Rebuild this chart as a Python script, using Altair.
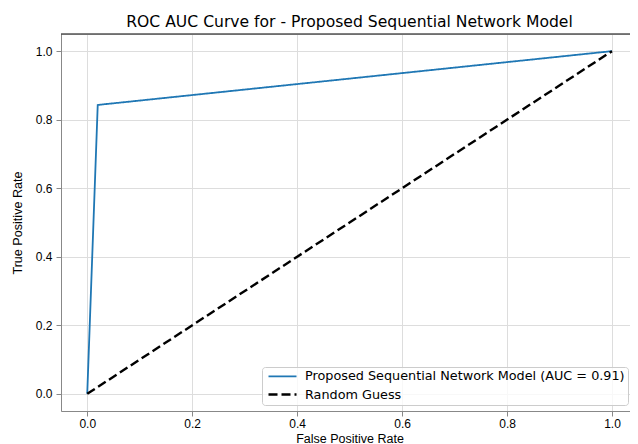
import altair as alt
import pandas as pd

roc_fpr = [0.0, 0.02, 1.0]
roc_tpr = [0.0, 0.843, 1.0]
guess_fpr = [0.0, 1.0]
guess_tpr = [0.0, 1.0]
series_names = ["Proposed Sequential Network Model (AUC = 0.91)", "Random Guess"]
ticks = [0.0, 0.2, 0.4, 0.6, 0.8, 1.0]
y_top = [1.05]

rows = []
for i, (x, y) in enumerate(zip(roc_fpr, roc_tpr)):
    rows.append({"fpr": x, "tpr": y, "series": series_names[0], "order": i})
for i, (x, y) in enumerate(zip(guess_fpr, guess_tpr)):
    rows.append({"fpr": x, "tpr": y, "series": series_names[1], "order": i})
df = pd.DataFrame(rows)
frame_df = pd.DataFrame({"top": y_top})

FONT = "DejaVu Sans"
PLOT_W = 569
PLOT_H = 377
xscale = alt.Scale(domain=[-0.05, 1.0343], nice=False, zero=False)
yscale = alt.Scale(domain=[-0.05, 1.05], nice=False, zero=False)

lines = alt.Chart(df).mark_line(clip=True).encode(
    x=alt.X("fpr:Q", title="False Positive Rate", scale=xscale,
            axis=alt.Axis(values=ticks, format=".1f", labelPadding=2,
                          labelFontSize=12, titleFontSize=12.5, titleFontWeight="normal",
                          titleY=31, titleBaseline="alphabetic", titleX=288.5)),
    y=alt.Y("tpr:Q", title="True Positive Rate", scale=yscale,
            axis=alt.Axis(values=ticks, format=".1f", labelPadding=4,
                          labelFontSize=12, titleFontSize=12.6, titleFontWeight="normal",
                          titleX=-43.6, titleBaseline="middle")),
    color=alt.Color("series:N", title=None,
                    scale=alt.Scale(domain=series_names, range=["#1f77b4", "#000000"]),
                    legend=alt.Legend(orient="none", legendX=201, legendY=333,
                                      symbolType="M-2.8,0H2.8", symbolSize=100,
                                      symbolStrokeWidth=2, symbolOffset=11, labelOffset=16,
                                      labelFontSize=12.8, labelFont=FONT, labelColor="#000000",
                                      fillColor="rgba(255,255,255,0.8)", strokeColor="#cccccc",
                                      cornerRadius=3, padding=3, rowPadding=4, labelLimit=500)),
    strokeDash=alt.StrokeDash("series:N", title=None,
                              scale=alt.Scale(domain=series_names, range=[[1, 0], [9, 4]])),
    strokeWidth=alt.StrokeWidth("series:N",
                                scale=alt.Scale(domain=series_names, range=[1.8, 2.4]),
                                legend=None),
    order="order:Q",
)

# top spine of the axes frame, at the top of the y domain
top_spine = alt.Chart(frame_df).mark_rule(color="#000000", strokeWidth=1.2).encode(
    y=alt.Y("top:Q", scale=yscale),
)

chart = alt.layer(lines, top_spine).properties(
    width=PLOT_W, height=PLOT_H,
    padding={"left": 53, "top": 26, "right": 0, "bottom": 33},
    autosize=alt.AutoSizeParams(type="none"),
    title=alt.TitleParams("ROC AUC Curve for - Proposed Sequential Network Model",
                          fontSize=15.6, font=FONT, fontWeight="normal", color="#000000",
                          offset=3, dx=4),
).configure_axis(
    labelFont=FONT, titleFont=FONT, labelColor="#000000", titleColor="#000000",
    labelFontSize=12, titleFontWeight="normal",
    gridColor="#bdbdbd", gridWidth=1, domainColor="#000000", tickColor="#000000",
    tickSize=4, domainWidth=1, tickWidth=1,
).configure_view(
    stroke=None,
).configure(background="white")

chart.save("out.html", embed_options={"renderer": "svg", "actions": False})
